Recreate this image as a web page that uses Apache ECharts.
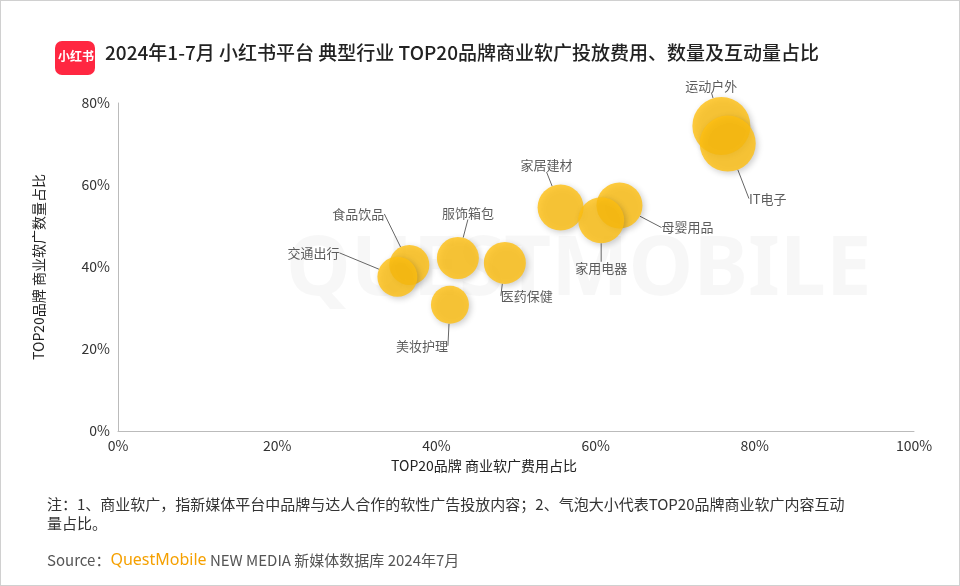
<!DOCTYPE html>
<html><head><meta charset="utf-8">
<script src="https://cdn.jsdelivr.net/npm/echarts@6/dist/echarts.min.js"></script>
<style>html,body{margin:0;padding:0;background:#fff}#main{width:958px;height:584px;border:1px solid #d0d0d0}</style>
</head><body><div id="main"></div>
<script>
var industries = ['运动户外', 'IT电子', '家居建材', '母婴用品', '家用电器', '医药保健', '服饰箱包', '食品饮品', '交通出行', '美妆护理'];
var spendShare = [75.8, 76.6, 55.6, 63.0, 60.7, 48.6, 42.7, 36.6, 35.1, 41.7];
var countShare = [74.4, 70.1, 54.5, 55.0, 51.4, 41.0, 42.2, 40.5, 37.6, 30.8];
var bubbleSize = [58, 56, 46, 46, 46, 42, 42, 40, 40, 38];
var labelOffsets = [[-10, -40], [40, 55], [-14, -42], [68, 22], [0, 48], [22, 33], [10, -45], [-51, -51], [-84, -24], [-28, 41]];

var chart = echarts.init(document.getElementById('main'));
var data = industries.map(function (n, i) {
    return { name: n, value: [spendShare[i], countShare[i]], symbolSize: bubbleSize[i] };
});
chart.setOption({
    textStyle: { fontFamily: 'Noto Sans CJK SC' },
    graphic: [
        { type: 'rect', left: 54, top: 40, shape: { width: 40, height: 34, r: 7 }, style: { fill: '#ff2741' } },
        { type: 'text', left: 57, top: 49, style: { text: '小红书', fill: '#fff', font: 'bold 12px "Noto Sans CJK SC"' } },
        { type: 'text', left: 104, top: 42, style: { text: '2024年1-7月 小红书平台 典型行业 TOP20品牌商业软广投放费用、数量及互动量占比', fill: '#222', font: '500 19px "Noto Sans CJK SC"' } },
        { type: 'text', left: 285, top: 230, z: -1, style: { text: 'QUESTMOBILE', fill: 'rgba(0,0,0,0.03)', font: 'bold 82px "Noto Sans"' } },
        { type: 'text', left: 46, top: 494, style: { text: '注：1、商业软广，指新媒体平台中品牌与达人合作的软性广告投放内容；2、气泡大小代表TOP20品牌商业软广内容互动\n量占比。', fill: '#333', font: '15px "Noto Sans CJK SC"', lineHeight: 19 } },
        { type: 'text', left: 46, top: 551, style: { rich: { a: { fill: '#555', font: '15px "Noto Sans CJK SC"' }, b: { fill: '#f5a000', font: '16px "Noto Sans"' } }, text: '{a|Source：}{b|QuestMobile} {a|NEW MEDIA 新媒体数据库 2024年7月}' } }
    ],
    grid: { left: 117, right: 45, top: 102, bottom: 154 },
    xAxis: {
        type: 'value', min: 0, max: 100, interval: 20,
        name: 'TOP20品牌 商业软广费用占比', nameLocation: 'middle', nameGap: 28,
        nameTextStyle: { color: '#222', fontSize: 14, padding: [0, 64, 0, 0] },
        axisLine: { show: true, lineStyle: { color: '#bbb' } }, axisTick: { show: false },
        splitLine: { show: false },
        axisLabel: { formatter: '{value}%', color: '#333', fontSize: 14 }
    },
    yAxis: {
        type: 'value', min: 0, max: 80, interval: 20,
        name: 'TOP20品牌 商业软广数量占比', nameLocation: 'middle', nameGap: 72,
        nameTextStyle: { color: '#222', fontSize: 14 },
        axisLine: { show: true, lineStyle: { color: '#bbb' } }, axisTick: { show: false },
        splitLine: { show: false },
        axisLabel: { formatter: '{value}%', color: '#333', fontSize: 14 }
    },
    series: [{
        type: 'scatter',
        data: data,
        itemStyle: { color: '#ffbf0f', shadowBlur: 6, shadowColor: 'rgba(0,0,0,0.25)', shadowOffsetX: 2, shadowOffsetY: 2 },
        label: { show: true, formatter: '{b}', color: '#333', fontSize: 13, position: 'inside' },
        labelLine: { show: true, lineStyle: { color: '#666', width: 1 } },
        labelLayout: function (p) {
            var o = labelOffsets[p.dataIndex];
            return { dx: o[0], dy: o[1] };
        }
    }]
});
</script></body></html>
